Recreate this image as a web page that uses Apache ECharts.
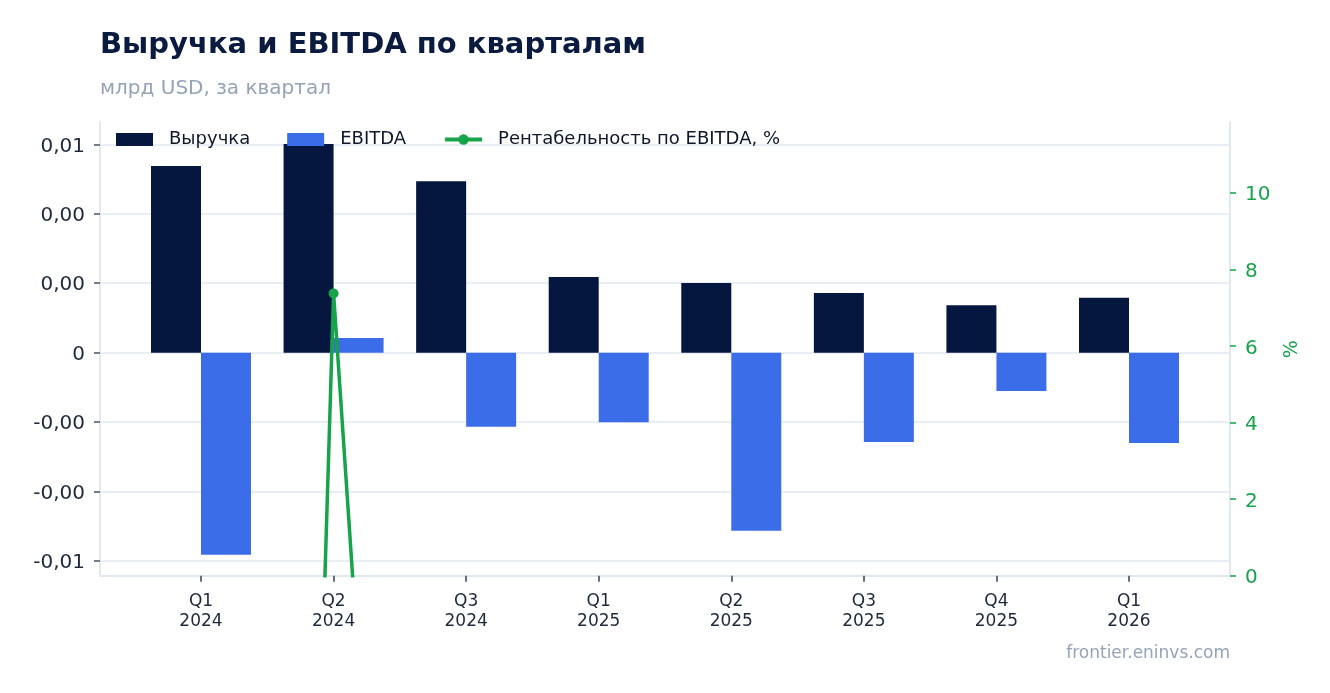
<!DOCTYPE html>
<html><head><meta charset="utf-8">
<script src="https://cdn.jsdelivr.net/npm/echarts@6/dist/echarts.min.js"></script>
<style>html,body{margin:0;padding:0;background:#fff}#c{width:1330px;height:693px}</style>
</head><body><div id="c"></div>
<script>
const categories = ['Q1\n2024','Q2\n2024','Q3\n2024','Q1\n2025','Q2\n2025','Q3\n2025','Q4\n2025','Q1\n2026'];
const revenue = [0.00538, 0.00601, 0.00494, 0.00218, 0.00201, 0.00172, 0.00137, 0.00158];
const ebitda = [-0.00582, 0.00042, -0.00213, -0.00200, -0.00513, -0.00257, -0.00110, -0.00260];
const margin = [-106, 7.37, -44, -92, -255, -150, -80, -165];
const leftTicks = [-0.006, -0.004, -0.002, 0, 0.002, 0.004, 0.006];
const rightTicks = [0, 2, 4, 6, 8, 10];

const GRID = '#e2e8f0', GREEN = '#16a34a', NAVY = '#05173f', BLUE = '#3b6de8';
const chart = echarts.init(document.getElementById('c'), null, {renderer: 'canvas'});
const fmtLeft = v => '{t|' + (v === 0 ? '0' : v.toFixed(2).replace('.', ',')) + '}';

chart.setOption({
  animation: false,
  backgroundColor: '#fff',
  textStyle: {fontFamily: 'DejaVu Sans'},
  title: [
    {text: 'Выручка и EBITDA по кварталам', left: 100, top: 31, padding: 0,
     textStyle: {fontSize: 29, fontWeight: 'bold', color: '#0b1a3f', fontFamily: 'DejaVu Sans'}},
    {text: 'млрд USD, за квартал', left: 100, top: 79, padding: 0,
     textStyle: {fontSize: 20, fontWeight: 'normal', color: '#94a3b8', fontFamily: 'DejaVu Sans'}},
    {text: 'frontier.eninvs.com', right: 100, top: 645, padding: 0,
     textStyle: {fontSize: 17, fontWeight: 'normal', color: '#94a3b8', fontFamily: 'DejaVu Sans'}}
  ],
  legend: {
    left: 116, top: 130.5, padding: 0, itemWidth: 37, itemHeight: 13, itemGap: 37,
    textStyle: {fontSize: 18, color: '#0f172a', padding: [0, 0, 0, 11]},
    data: [
      {name: 'Выручка', icon: 'rect'},
      {name: 'EBITDA', icon: 'rect'},
      {name: 'Рентабельность по EBITDA, %', lineStyle: {width: 4, color: GREEN}, itemStyle: {color: GREEN}}
    ]
  },
  grid: [
    {left: 100, width: 1130, top: 122.7, height: 453, containLabel: false},
    {left: 201, width: 928, top: 122.7, height: 453, containLabel: false},
    {left: 100, width: 1130, top: 144.3, height: 416.7, containLabel: false}
  ],
  xAxis: [
    {type: 'category', gridIndex: 0, data: categories,
     axisLine: {show: true, onZero: false, lineStyle: {color: GRID, width: 2}}, axisTick: {show: false}, axisLabel: {show: false}, splitLine: {show: false}},
    {type: 'category', gridIndex: 1, data: categories, boundaryGap: false,
     axisLine: {show: false, onZero: false}, axisTick: {show: true, length: 6, lineStyle: {color: '#334155', width: 1.5}},
     axisLabel: {show: true, fontSize: 17, lineHeight: 20, color: '#1e293b', margin: 16}, splitLine: {show: false}},
    {type: 'category', gridIndex: 2, data: categories, show: false, axisLine: {onZero: false}}
  ],
  yAxis: [
    {type: 'value', gridIndex: 0, position: 'left', min: 0, max: 1,
     axisLine: {show: true, lineStyle: {color: GRID, width: 2}}, axisTick: {show: false}, axisLabel: {show: false}, splitLine: {show: false}},
    {type: 'value', gridIndex: 0, position: 'right', min: rightTicks[0], max: 11.83,
     name: '%', nameLocation: 'middle', nameGap: 53, nameTextStyle: {color: GREEN, fontSize: 19},
     axisLine: {show: true, lineStyle: {color: GRID, width: 2}},
     axisTick: {show: true, length: 6, customValues: rightTicks, lineStyle: {color: GREEN, width: 1.5}},
     axisLabel: {show: true, fontSize: 20, color: GREEN, margin: 15, customValues: rightTicks,
       formatter: v => '{t|' + v + '}',
       rich: {t: {fontSize: 20, color: GREEN, padding: [5, 0, 0, 0]}}},
     splitLine: {show: false}},
    {type: 'value', gridIndex: 1, min: -0.006422, max: 0.006624, show: false},
    {type: 'value', gridIndex: 1, min: 0, max: 11.83, show: false},
    {type: 'value', gridIndex: 2, position: 'left', min: leftTicks[0], max: leftTicks[leftTicks.length - 1], interval: 0.002,
     axisLine: {show: false},
     axisTick: {show: true, length: 6, lineStyle: {color: '#475569', width: 1.5}},
     axisLabel: {show: true, fontSize: 20, color: '#1e293b', margin: 15, formatter: fmtLeft,
       rich: {t: {fontSize: 20, color: '#1e293b', padding: [4, 0, 0, 0]}}},
     splitLine: {show: true, lineStyle: {color: GRID, width: 1.5}}}
  ],
  series: [
    {name: 'Выручка', type: 'bar', xAxisIndex: 1, yAxisIndex: 2, data: revenue,
     barWidth: 50, barGap: '0%', itemStyle: {color: NAVY}},
    {name: 'EBITDA', type: 'bar', xAxisIndex: 1, yAxisIndex: 2, data: ebitda,
     barWidth: 50, barGap: '0%', itemStyle: {color: BLUE}},
    {name: 'Рентабельность по EBITDA, %', type: 'line', xAxisIndex: 1, yAxisIndex: 3, data: margin,
     symbol: 'circle', symbolSize: 10, showSymbol: true, clip: true,
     lineStyle: {color: GREEN, width: 3.5}, itemStyle: {color: GREEN}}
  ]
});
</script>
</body></html>
